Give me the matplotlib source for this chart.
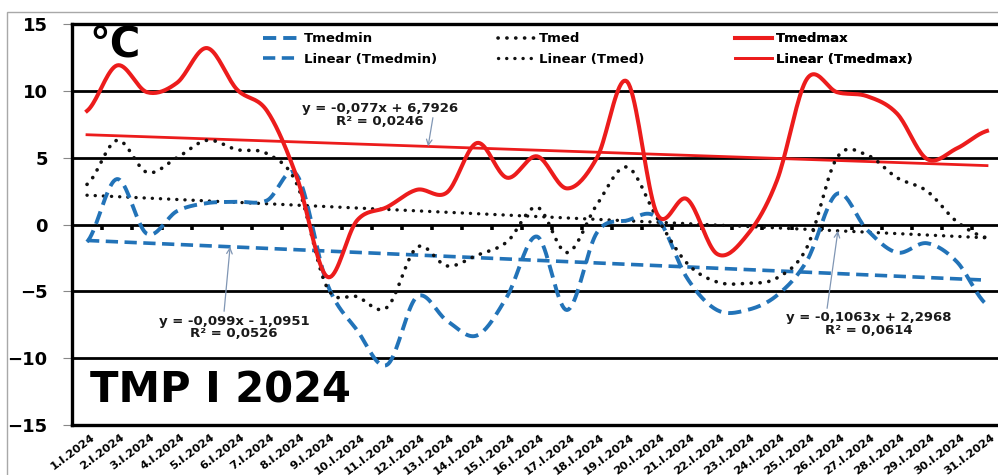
import numpy as np
import matplotlib
matplotlib.use("Agg")  # no display
import matplotlib.pyplot as plt
import matplotlib.transforms as mtransforms
from matplotlib.patches import Rectangle

# days of January 2024
days = [f"{d}.I.2024" for d in range(1, 32)]

# daily values (°C)
tmedmin = [-1.3, 3.4, -0.7, 1.0, 1.6, 1.7, 1.8, 3.7, -4.4, -7.9, -10.5, -5.4, -7.2, -8.3, -5.4, -0.9,
           -6.4, -0.6, 0.3, 0.5, -4.0, -6.4, -6.4, -5.3, -2.7, 2.3, -0.4, -2.1, -1.4, -2.8, -6.0]
tmed = [3.0, 6.3, 3.9, 5.0, 6.3, 5.6, 5.3, 3.0, -4.7, -5.4, -6.2, -1.7, -3.1, -2.3, -1.3, 1.3,
        -2.1, 1.5, 4.3, 0.5, -2.9, -4.3, -4.4, -4.0, -1.7, 5.0, 5.2, 3.5, 2.5, 0.2, -1.0]
tmedmax = [8.5, 11.9, 9.9, 10.6, 13.2, 10.1, 8.5, 3.5, -3.9, 0.3, 1.3, 2.6, 2.4, 6.1, 3.5, 5.1,
           2.7, 5.0, 10.7, 0.8, 1.9, -2.2, -0.8, 3.3, 10.9, 9.9, 9.6, 8.3, 4.9, 5.7, 7.0]

# linear trend coefficients (from the chart labels), x = 1..31
trend_slope = [-0.099, -0.1063, -0.077]
trend_icpt = [-1.0951, 2.2968, 6.7926]
trend_text = ["y = -0,099x - 1,0951\nR² = 0,0526",
              "y = -0,1063x + 2,2968\nR² = 0,0614",
              "y = -0,077x + 6,7926\nR² = 0,0246"]

BLUE = "#2273B8"
RED = "#EC1C1C"
BLACK = "#111111"


def smooth(y, n=20):
    # catmull-rom like excel "smoothed line"
    y = np.asarray(y, float)
    p = np.concatenate([[y[0]], y, [y[-1]]])
    xs, ys = [], []
    t = np.linspace(0, 1, n, endpoint=False)
    for i in range(len(y) - 1):
        p0, p1, p2, p3 = p[i], p[i + 1], p[i + 2], p[i + 3]
        yy = 0.5 * (2 * p1 + (-p0 + p2) * t + (2 * p0 - 5 * p1 + 4 * p2 - p3) * t ** 2
                    + (-p0 + 3 * p1 - 3 * p2 + p3) * t ** 3)
        xs.append(i + t)
        ys.append(yy)
    xs.append([len(y) - 1])
    ys.append([y[-1]])
    return np.concatenate(xs), np.concatenate(ys)


plt.rcParams['font.family'] = ['DejaVu Sans']
plt.rcParams['font.weight'] = 'bold'

fig = plt.figure(figsize=(9.98, 4.75), dpi=100)
fig.patches.append(Rectangle((7 / 998, -0.1), 1.2, (475 - 12) / 475 + 0.1, transform=fig.transFigure,
                             fill=False, edgecolor="#A8A8A8", lw=1.0))
ax = fig.add_axes([72 / 998, 50 / 475, 930 / 998, 401 / 475])

x = np.arange(len(days))
xn = x + 1

blue_dash = (0, (3.4, 1.8))
dot = (0, (0.05, 2.4))

# trend lines
trend_styles = [dict(color=BLUE, lw=2.6, linestyle=blue_dash),
                dict(color=BLACK, lw=2.4, linestyle=dot, dash_capstyle='round'),
                dict(color=RED, lw=2.0, linestyle='-')]
trend_lines = []
for k in range(3):
    yt = trend_slope[k] * xn + trend_icpt[k]
    ln, = ax.plot(x, yt, zorder=3, **trend_styles[k])
    trend_lines.append(ln)

sx, sy = smooth(tmedmin)
l_min, = ax.plot(sx, sy, color=BLUE, lw=2.8, linestyle=blue_dash, zorder=4)
sx, sy = smooth(tmed)
l_med, = ax.plot(sx, sy, color=BLACK, lw=2.6, linestyle=dot, dash_capstyle='round', zorder=5)
sx, sy = smooth(tmedmax)
l_max, = ax.plot(sx, sy, color=RED, lw=2.9, zorder=6)

ax.set_xlim(-0.5, 30.5)
ax.set_ylim(-15, 15)
ax.set_yticks(np.arange(-15, 16, 5))
ax.set_xticks(x)
ax.set_xticklabels(days, rotation=37, ha='right', va='top', rotation_mode='anchor', fontsize=8.2)
ax.tick_params(axis='x', length=0, pad=5)
ax.tick_params(axis='y', length=6.5, width=0.8, color='#888888', pad=11, labelsize=13)
shift = mtransforms.ScaledTranslation(0.035, 0, fig.dpi_scale_trans)
for lbl in ax.get_xticklabels():
    lbl.set_transform(lbl.get_transform() + shift)
for lbl in ax.get_yticklabels() + ax.get_xticklabels():
    lbl.set_fontweight('bold')

ax.grid(axis='y', color='black', lw=2.0, zorder=1)
ax.set_axisbelow(True)
for side in ['top', 'left', 'bottom']:
    ax.spines[side].set_linewidth(2.4)
    ax.spines[side].set_color('black')
ax.spines['right'].set_visible(False)

# little category ticks on the zero line
sec = ax.secondary_xaxis(0.5)
sec.set_xticks(np.arange(0.5, 30, 1))
sec.tick_params(axis='x', top=False, bottom=True, labeltop=False, labelbottom=False,
                direction='out', length=3.5, width=2.6, color='black')
for s in sec.spines.values():
    s.set_visible(False)

# legend, one column at a time
leg_kw = dict(loc='upper left', frameon=False, borderpad=0, borderaxespad=0,
              handlelength=2.8, handletextpad=0.3, labelspacing=0.55, prop={'weight': 'bold', 'size': 9.5})
cols = [([l_min, trend_lines[0]], ["Tmedmin", "Linear (Tmedmin)"], (263 - 72) / 930),
        ([l_med, trend_lines[1]], ["Tmed", "Linear (Tmed)"], (498 - 72) / 930),
        ([l_max, trend_lines[2]], ["Tmedmax", "Linear (Tmedmax)"], (735 - 72) / 930)]
for hs, labels, xa in cols:
    leg = ax.legend(hs, labels, bbox_to_anchor=(xa, 0.979), **leg_kw)
    ax.add_artist(leg)

# trend equations with arrows
txt_pos = [(4.9, -7.69), (26.07, -7.43), (9.77, 8.21)]
arrow_tail = [(4.57, -6.49), (24.67, -6.27), (11.53, 7.99)]
arrow_head_x = [4.77, 25.03, 11.37]
for k in range(3):
    ax.text(txt_pos[k][0], txt_pos[k][1], trend_text[k], ha='center', va='center', fontsize=9.5,
            fontweight='bold', linespacing=0.95, color='#1A1A1A', zorder=8)
    hx = arrow_head_x[k]
    hy = trend_slope[k] * (hx + 1) + trend_icpt[k]
    ax.annotate('', xy=(hx, hy), xytext=arrow_tail[k],
                arrowprops=dict(arrowstyle='->', color='#8096B4', lw=0.9, shrinkA=0, shrinkB=0), zorder=8)

ax.text(0.019, 0.918, "°C", transform=ax.transAxes, fontsize=30, fontweight='bold', va='baseline', zorder=8)
ax.text(0.019, 0.057, "TMP I 2024", transform=ax.transAxes, fontsize=30, fontweight='bold',
        va='baseline', zorder=8)

plt.savefig('out.png', dpi=100)
